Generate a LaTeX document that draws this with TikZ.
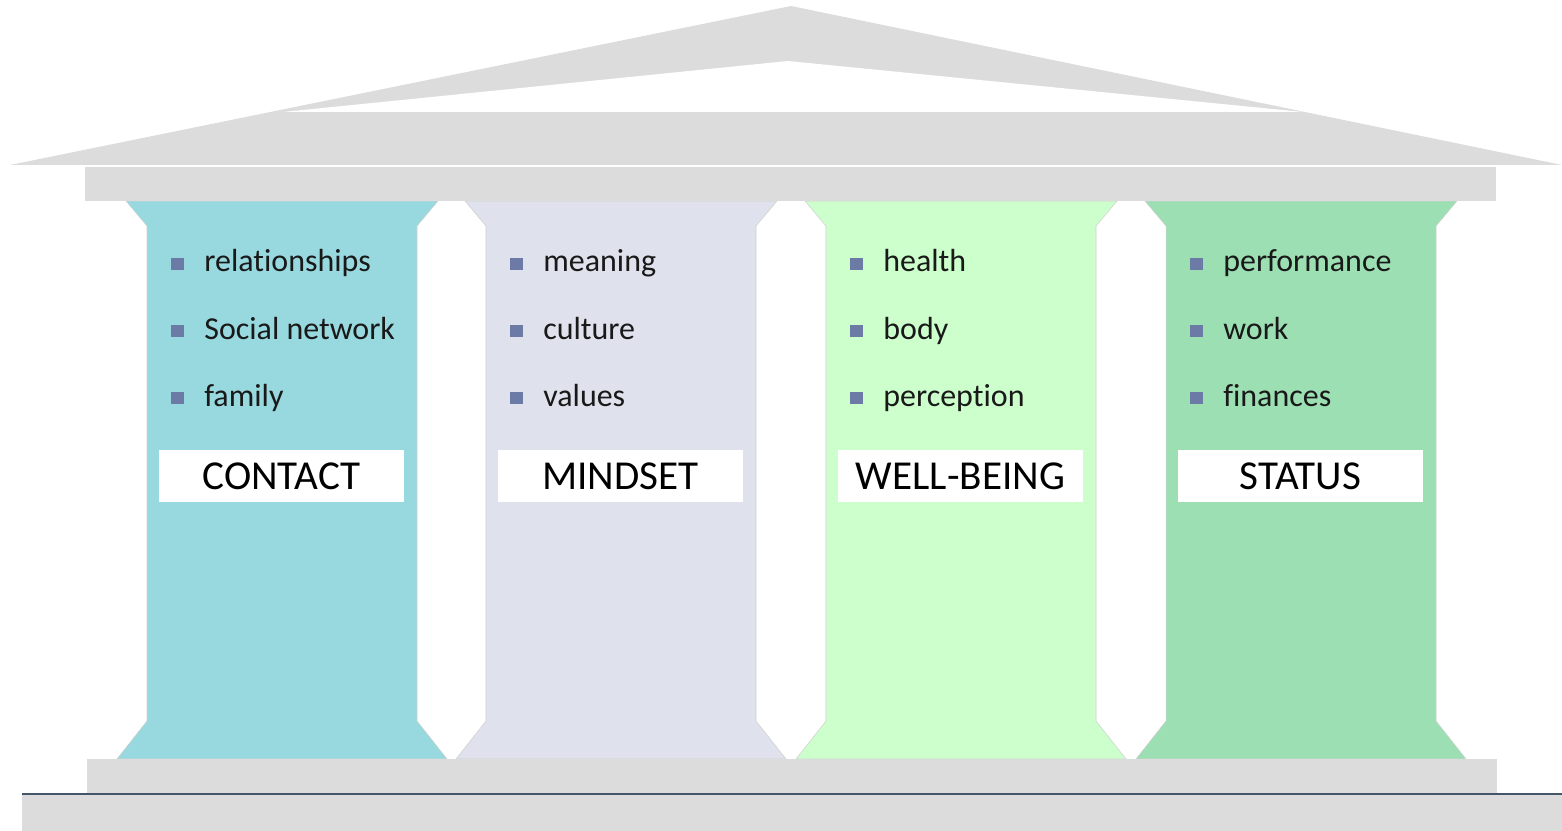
\documentclass[tikz,border=0pt]{standalone}
\usepackage{fontspec}
\setmainfont{Carlito}[Ligatures=NoCommon]

\definecolor{stonegray}{HTML}{DCDCDC}
\definecolor{edgegray}{HTML}{D0D0D0}
\definecolor{groundline}{HTML}{44546A}
\definecolor{bulletblue}{HTML}{6C7AA6}
\definecolor{contactcol}{HTML}{97D9DE}
\definecolor{mindsetcol}{HTML}{DFE2EC}
\definecolor{wellcol}{HTML}{CCFFCC}
\definecolor{statuscol}{HTML}{9CDFB3}

\begin{document}
\begin{tikzpicture}[x=0.02cm,y=-0.02cm,
    pillar/.style={draw=edgegray, line width=0.3pt},
    sq/.style={fill=bulletblue, inner sep=0pt, minimum size=0.26cm},
    item/.style={anchor=base west, inner sep=0pt, text=black!90,
        font=\fontsize{18.2}{22}\selectfont},
    titlebox/.style={fill=white, inner sep=0pt, minimum width=4.92cm,
        minimum height=1.04cm, font=\fontsize{23.4}{27}\selectfont}]
    \useasboundingbox (0,0) rectangle (1562,831);

    % pillars
    \foreach \x/\c/\name/\title/\a/\b/\cc in {
        147/contactcol/contact/CONTACT/relationships/Social network/family,
        486/mindsetcol/mindset/MINDSET/meaning/culture/values,
        826/wellcol/wellbeing/WELL-BEING/health/body/perception,
        1166/statuscol/status/STATUS/performance/work/finances} {
        \filldraw[fill=\c, pillar] (\x-21,201) -- (\x,226) -- (\x,721) -- (\x-30,759)
            -- (\x+300,759) -- (\x+270,721) -- (\x+270,226) -- (\x+291,201) -- cycle;
        \node[sq] (sqa\name) at (\x+30,264) {};
        \node[sq] (sqb\name) at (\x+30,331) {};
        \node[sq] (sqc\name) at (\x+30,398) {};
        \node[item] (itema\name) at (\x+57,272) {\a};
        \node[item] (itemb\name) at (\x+57,339) {\b};
        \node[item] (itemc\name) at (\x+57,406) {\cc};
        \node[titlebox] (\name) at (\x+134.5,476) {\title};
    }

    % roof
    \fill[stonegray] (10,165) -- (791,6) -- (1562,165) -- cycle;
    \fill[white] (283,112) -- (788,61) -- (1303,112) -- cycle;
    \fill[stonegray] (85,167) rectangle (1496,201);

    % base and ground
    \fill[stonegray] (87,759) rectangle (1497,793);
    \fill[stonegray] (22,795) rectangle (1562,831);
    \draw[groundline, line width=0.04cm] (22,794) -- (1562,794);
\end{tikzpicture}
\end{document}
